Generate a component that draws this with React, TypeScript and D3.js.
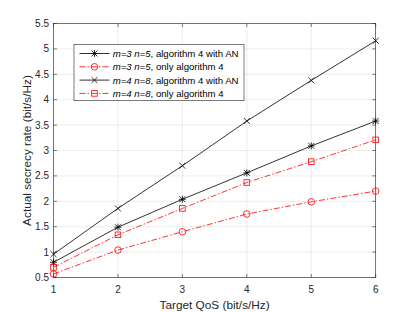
import { useEffect, useRef } from 'react';
import * as d3 from 'd3';

const qos = [1, 2, 3, 4, 5, 6];
const m3n5WithAN = [0.8, 1.49, 2.04, 2.56, 3.09, 3.58];
const m3n5Only = [0.57, 1.04, 1.4, 1.75, 1.99, 2.2];
const m4n8WithAN = [0.96, 1.86, 2.7, 3.58, 4.38, 5.16];
const m4n8Only = [0.7, 1.34, 1.86, 2.37, 2.78, 3.21];
const yTicks = [0.5, 1, 1.5, 2, 2.5, 3, 3.5, 4, 4.5, 5, 5.5];

type Marker = 'asterisk' | 'circle' | 'cross' | 'square';

const seriesList: { mn: string; label: string; values: number[]; color: string; dash: string | null; marker: Marker }[] = [
  { mn: 'm=3 n=5', label: ', algorithm 4 with AN', values: m3n5WithAN, color: '#000000', dash: null, marker: 'asterisk' },
  { mn: 'm=3 n=5', label: ', only algorithm 4', values: m3n5Only, color: '#ff0000', dash: '6,2,1.5,2', marker: 'circle' },
  { mn: 'm=4 n=8', label: ', algorithm 4 with AN', values: m4n8WithAN, color: '#000000', dash: null, marker: 'cross' },
  { mn: 'm=4 n=8', label: ', only algorithm 4', values: m4n8Only, color: '#ff0000', dash: '6,2,1.5,2', marker: 'square' },
];

const W = 415;
const H = 312;
const FONT = '"Liberation Sans", Arial, sans-serif';

function drawMarker(g: d3.Selection<SVGGElement, unknown, null, undefined>, type: Marker, x: number, y: number, color: string) {
  const m = g.append('g').attr('transform', `translate(${x},${y})`)
    .attr('stroke', color).attr('fill', 'none').attr('stroke-width', 0.8);
  const r = 3.5;
  if (type === 'circle') {
    m.append('circle').attr('r', 3.3);
  } else if (type === 'square') {
    m.append('rect').attr('x', -2.8).attr('y', -2.8).attr('width', 5.6).attr('height', 5.6);
  } else {
    const d = r * 0.85;
    m.append('line').attr('x1', -d).attr('y1', -d).attr('x2', d).attr('y2', d);
    m.append('line').attr('x1', -d).attr('y1', d).attr('x2', d).attr('y2', -d);
    if (type === 'asterisk') {
      m.append('line').attr('x1', -r).attr('y1', 0).attr('x2', r).attr('y2', 0);
      m.append('line').attr('x1', 0).attr('y1', -r).attr('x2', 0).attr('y2', r);
    }
  }
}

export default function App() {
  const svgRef = useRef<SVGSVGElement>(null);

  useEffect(() => {
    if (!svgRef.current) return;
    d3.select(svgRef.current).selectAll('*').remove();
    const svg = d3.select(svgRef.current);

    const x = d3.scaleLinear().domain([1, 6]).range([53.5, 375.7]);
    const y = d3.scaleLinear().domain([0.5, 5.5]).range([277.5, 23.5]);
    const [x0, x1] = x.range();
    const [y0, y1] = y.range();
    const axisColor = '#262626';

    svg.append('rect').attr('x', x0).attr('y', y1).attr('width', x1 - x0).attr('height', y0 - y1).attr('fill', '#fff');

    // Grid
    const grid = svg.append('g').attr('stroke', '#dfdfdf').attr('stroke-width', 0.6);
    qos.forEach(v => {
      grid.append('line').attr('x1', x(v)).attr('x2', x(v)).attr('y1', y0).attr('y2', y1);
    });
    yTicks.forEach(v => {
      grid.append('line').attr('x1', x0).attr('x2', x1).attr('y1', y(v)).attr('y2', y(v));
    });

    // Axes: box with inward ticks
    const axes = svg.append('g').attr('stroke', axisColor).attr('stroke-width', 0.6);
    axes.append('rect').attr('x', x0).attr('y', y1).attr('width', x1 - x0).attr('height', y0 - y1).attr('fill', 'none');
    qos.forEach(v => {
      axes.append('line').attr('x1', x(v)).attr('x2', x(v)).attr('y1', y0).attr('y2', y0 - 3.5);
      axes.append('line').attr('x1', x(v)).attr('x2', x(v)).attr('y1', y1).attr('y2', y1 + 3.5);
    });
    yTicks.forEach(v => {
      axes.append('line').attr('x1', x0).attr('x2', x0 + 3.5).attr('y1', y(v)).attr('y2', y(v));
      axes.append('line').attr('x1', x1).attr('x2', x1 - 3.5).attr('y1', y(v)).attr('y2', y(v));
    });

    const labels = svg.append('g').attr('font-family', FONT).attr('font-size', 10).attr('fill', axisColor);
    qos.forEach(v => {
      labels.append('text').attr('x', x(v)).attr('y', y0 + 15.5).attr('text-anchor', 'middle').text(v);
    });
    yTicks.forEach(v => {
      labels.append('text').attr('x', x0 - 4.5).attr('y', y(v) + 3.5).attr('text-anchor', 'end').text(v);
    });

    svg.append('text').attr('x', (x0 + x1) / 2).attr('y', 308.5).attr('text-anchor', 'middle')
      .attr('font-family', FONT).attr('font-size', 11.8).attr('fill', axisColor)
      .text('Target QoS (bit/s/Hz)');
    svg.append('text').attr('transform', `translate(30.5, ${(y0 + y1) / 2}) rotate(-90)`).attr('text-anchor', 'middle')
      .attr('font-family', FONT).attr('font-size', 11.8).attr('fill', axisColor)
      .text('Actual secrecy rate (bit/s/Hz)');

    // Series
    const line = d3.line<number>().x((_, i) => x(qos[i])).y(d => y(d));
    const plot = svg.append('g');
    seriesList.forEach(s => {
      plot.append('path').attr('d', line(s.values)).attr('fill', 'none')
        .attr('stroke', s.color).attr('stroke-width', 0.8)
        .attr('stroke-dasharray', s.dash);
      s.values.forEach((v, i) => drawMarker(plot, s.marker, x(qos[i]), y(v), s.color));
    });

    // Legend
    const legend = svg.append('g');
    legend.append('rect').attr('x', 74).attr('y', 44.3).attr('width', 170).attr('height', 56.4)
      .attr('fill', '#fff').attr('stroke', axisColor).attr('stroke-width', 0.6);
    seriesList.forEach((s, i) => {
      const ry = 53.5 + i * 13.3;
      legend.append('line').attr('x1', 79.5).attr('x2', 109.5).attr('y1', ry).attr('y2', ry)
        .attr('stroke', s.color).attr('stroke-width', 0.8).attr('stroke-dasharray', s.dash);
      drawMarker(legend, s.marker, 94.5, ry, s.color);
      const t = legend.append('text').attr('x', 112.7).attr('y', ry + 3.5)
        .attr('font-family', FONT).attr('font-size', 9.6).attr('fill', '#000');
      t.append('tspan').attr('font-style', 'italic').text(s.mn);
      t.append('tspan').text(s.label);
    });
  }, []);

  return <svg ref={svgRef} width={W} height={H} style={{ position: 'absolute', left: 0, top: 0, background: '#fff' }} />;
}
